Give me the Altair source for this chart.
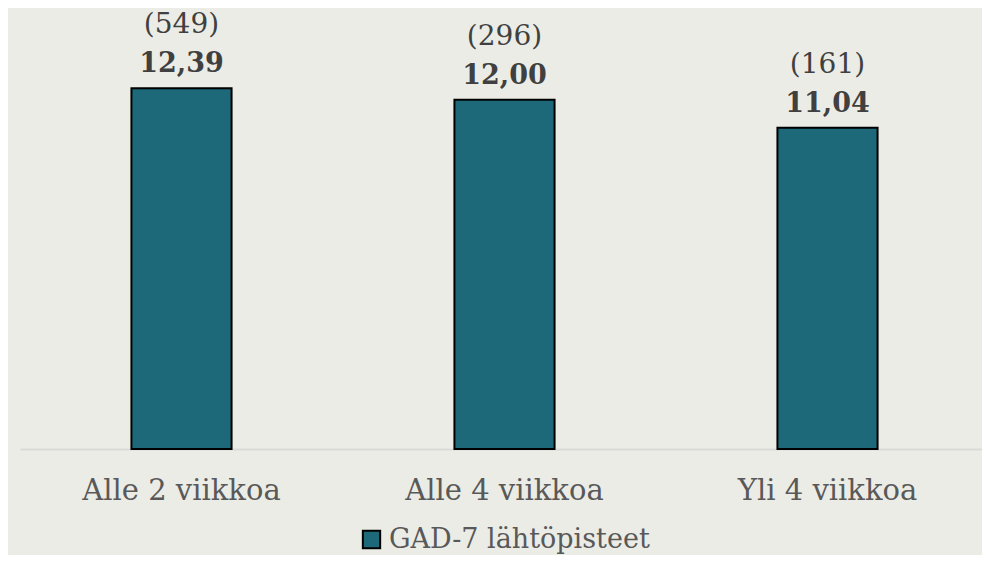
import altair as alt
import pandas as pd

categories = ["Alle 2 viikkoa", "Alle 4 viikkoa", "Yli 4 viikkoa"]
values = [12.39, 12.00, 11.04]
counts = [549, 296, 161]
series_name = "GAD-7 lähtöpisteet"

df = pd.DataFrame({
    "cat": categories,
    "value": values,
    "count_label": [f"({c})" for c in counts],
    "value_label": [f"{v:.2f}".replace(".", ",") for v in values],
    "series": [series_name] * len(categories),
})

FONT = "DejaVu Serif"
BAR = "#1D6879"
BG = "#ECECE6"

x = alt.X("cat:N", sort=categories, title=None,
          scale=alt.Scale(paddingInner=0.69, paddingOuter=0.345, range=[0, 969]),
          axis=alt.Axis(labelAngle=0, ticks=False, tickSize=0, labelPadding=27,
                        labelFont=FONT, labelFontSize=29, labelColor="#595959",
                        labelLimit=500,
                        domainColor="#D9D9D9", domainWidth=2, grid=False))
y = alt.Y("value:Q", title=None, scale=alt.Scale(domain=[0, 15.15], nice=False),
          axis=None)

bars = alt.Chart(df).mark_bar(stroke="black", strokeWidth=2).encode(
    x=x, y=y,
    color=alt.Color("series:N", title=None,
                    scale=alt.Scale(range=[BAR]),
                    legend=alt.Legend(orient="none", legendX=338, legendY=518,
                                      symbolType="square", symbolSize=300,
                                      symbolStrokeColor="black", symbolStrokeWidth=2,
                                      labelFont=FONT, labelFontSize=27,
                                      labelColor="#595959", labelOffset=4,
                                      labelLimit=500)),
)

val_text = alt.Chart(df).mark_text(font=FONT, fontSize=27, fontWeight="bold",
                                   color="#404040", baseline="middle", dy=-24).encode(
    x=alt.X("cat:N", sort=categories), y="value:Q", text="value_label:N")

cnt_text = alt.Chart(df).mark_text(font=FONT, fontSize=28, color="#404040",
                                   baseline="middle", dy=-63).encode(
    x=alt.X("cat:N", sort=categories), y="value:Q", text="count_label:N")

chart = alt.layer(bars, val_text, cnt_text).properties(
    width=962, height=441,
    autosize=alt.AutoSizeParams(type="none"),
    padding={"left": 12, "top": 0, "right": 0, "bottom": 106},
    background=BG,
).configure_view(stroke=None)

chart.save("out.html", embed_options={"renderer": "svg", "actions": False})
